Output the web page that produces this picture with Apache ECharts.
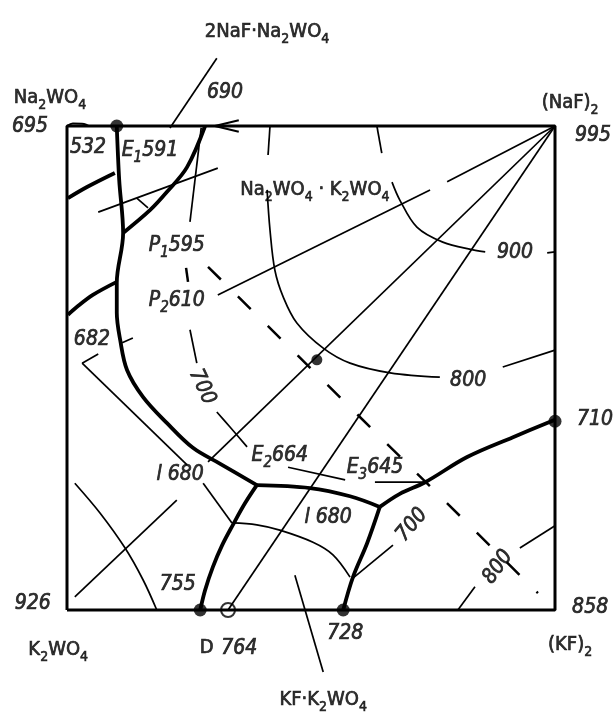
<!DOCTYPE html>
<html>
<head>
<meta charset="utf-8">
<script src="https://cdn.jsdelivr.net/npm/echarts@6/dist/echarts.min.js"></script>
<style>
html, body { margin: 0; padding: 0; background: #fff; }
#chart { width: 616px; height: 725px; }
</style>
</head>
<body>
<div id="chart"></div>
<script>
// square of the reciprocal system, x: 0..100 (K2WO4 -> (KF)2), y: 0..100 (K2WO4 -> Na2WO4)
var frame = [[0, 0], [100, 0], [100, 100], [0, 100], [0, 0]];

// monovariant curves (thick)
var curveLeft = [[10.2, 100], [10.7, 88.8], [11.5, 77.9], [10.2, 67.6], [10.2, 61.4], [10.9, 55.8], [12.3, 49.6], [15.6, 44.0], [20.5, 38.6], [25.8, 33.5], [31.4, 30.2], [38.9, 25.8]];
var curveE2E3 = [[38.9, 25.8], [49.8, 25.2], [58.0, 23.5], [64.1, 21.3]];
var curveE3Right = [[64.1, 21.3], [68.2, 24.0], [73.4, 26.4], [82.0, 31.6], [91.4, 35.7], [100, 39.3]];
var curveE2Down = [[38.9, 25.8], [36.5, 22.1], [34.0, 17.6], [31.8, 13.4], [29.9, 8.9], [28.3, 4.1], [27.3, 0]];
var curveE3Down = [[64.1, 21.3], [61.5, 13.8], [58.6, 6.8], [56.6, 0]];
var curveE1 = [[28.3, 100], [24.6, 91.5], [20.5, 86.4], [17.0, 82.6], [11.5, 77.9]];
var curveP1 = [[0.2, 85.1], [4.1, 87.4], [9.8, 90.3]];
var curveP2 = [[0.2, 61.0], [2.0, 62.6], [5.3, 65.1], [10.2, 67.8]];

// isotherms (thin), split where labels sit
var iso900 = [
  [[63.5, 100], [64.5, 94.4]],
  [[66.6, 88.4], [68.2, 84.7], [71.7, 79.1], [77.0, 76.0], [83.2, 74.4], [85.7, 74.0]],
  [[98.4, 73.8], [100, 74.0]]
];
var iso800 = [
  [[41.6, 100], [41.2, 94.0]],
  [[41.0, 86.8], [41.6, 78.5], [42.6, 70.2], [44.3, 64.7], [47.1, 59.3], [52.5, 54.1], [58.0, 51.0], [66.2, 49.0], [76.4, 48.1]],
  [[89.3, 50.2], [100, 53.7]]
];
var iso800Low = [[[100, 17.4], [92.8, 12.8]], [[83.6, 4.8], [80.1, 0]]];
var iso700 = [
  [[25.2, 57.9], [26.6, 51.0]],
  [[30.7, 40.9], [33.4, 37.8], [36.9, 33.7]],
  [[45.3, 29.5], [57.0, 26.9]],
  [[63.1, 26.4], [73.0, 26.4]],
  [[58.6, 6.6], [66.8, 13.4]]
];
var iso680 = [[[27.9, 26.2], [33.8, 18.0]], [[33.8, 18.0], [38.9, 17.6], [43.6, 16.5], [50.4, 14.0], [54.5, 11.4], [58.0, 6.8]]];
var isoLeft = [[[3.1, 51.0], [24.6, 30.0]], [[3.1, 51.0], [6.4, 52.9]], [[11.3, 55.2], [13.5, 56.2]]];
var arcK2WO4 = [[1.6, 26.2], [6.8, 20.0], [11.9, 12.8], [15.6, 6.2], [18.4, 0]];

// straight sections and leaders
var rays = [
  [[100, 100], [77.9, 88.5]], [[74.4, 86.8], [30.9, 65.1]],
  [[100, 100], [28.9, 30.6]],
  [[100, 100], [33.0, 0]],
  [[22.5, 22.7], [1.6, 2.7]]
];
var diagDashed = [[28.9, 70.9], [96.5, 3.5]];
var dashP1 = [[24.4, 70.7], [24.8, 67.8]];
var leaders = [
  [[30.7, 114.0], [21.1, 99.6]],
  [[6.4, 82.2], [30.9, 91.3]],
  [[27.5, 99.6], [25.2, 80.2]],
  [[14.3, 85.1], [16.6, 83.1]],
  [[46.7, 7.2], [52.5, -12.8]]
];
var arrowTop = [[35.2, 101.2], [30.3, 100], [35.2, 98.8]];
var cornerHook = [[0, 100], [1.2, 100.5], [3.5, 100.4], [4.5, 100]];

// invariant points
var solidPoints = [[10.2, 100], [27.3, 0], [56.6, 0], [100, 39.0]];
var innerPoints = [[51.2, 51.7]];
var openPoints = [[33.0, 0]];

// labels [x, y, text]
var formulaLabels = [
  [41.0, 119.4, '2NaF·Na{s|2}WO{s|4}'],
  [-3.5, 105.8, 'Na{s|2}WO{s|4}'],
  [50.8, 86.8, 'Na{s|2}WO{s|4} · K{s|2}WO{s|4}'],
  [103.1, 104.8, '(NaF){s|2}'],
  [-1.8, -8.3, 'K{s|2}WO{s|4}'],
  [103.1, -7.2, '(KF){s|2}'],
  [52.5, -18.6, 'KF·K{s|2}WO{s|4}'],
  [28.6, -7.9, 'D']
];
var tempLabels = [
  [-7.6, 99.8, '695'],
  [32.4, 107.0, '690'],
  [4.3, 95.5, '532'],
  [17.0, 95.0, 'E{s|1}591'],
  [107.8, 98.1, '995'],
  [22.5, 75.4, 'P{s|1}595'],
  [22.5, 64.0, 'P{s|2}610'],
  [91.8, 73.8, '900'],
  [5.1, 55.8, '682'],
  [82.2, 47.5, '800'],
  [108.2, 39.3, '710'],
  [43.6, 32.0, 'E{s|2}664'],
  [63.1, 29.5, 'E{s|3}645'],
  [23.2, 27.9, 'l 680'],
  [53.5, 19.0, 'l 680'],
  [22.7, 5.2, '755'],
  [-7.0, 1.4, '926'],
  [35.3, -7.9, '764'],
  [57.0, -4.8, '728'],
  [107.2, 0.6, '858']
];
var rotatedLabels = [
  [27.7, 46.1, '700', -65],
  [70.7, 17.6, '700', 50],
  [88.3, 8.9, '800', 55]
];

var FONT = '"Liberation Sans Narrow", "DejaVu Sans Condensed", sans-serif';

function lineSeries(segs, width, extra) {
  return segs.map(function (s) {
    return Object.assign({
      type: 'line',
      data: s,
      symbol: 'none',
      clip: false,
      silent: true,
      smooth: s.length > 2 ? 0.35 : false,
      lineStyle: { color: '#000', width: width }
    }, extra || {});
  });
}

function textSeries(items, italic, size) {
  var sub = {
    fontFamily: FONT, fontStyle: italic ? 'italic' : 'normal', fontSize: Math.round(size * 0.7),
    color: '#000', textBorderColor: '#000', textBorderWidth: 0.6,
    padding: [Math.round(size * 0.75), 0, 0, 0]
  };
  return {
    type: 'scatter',
    clip: false,
    silent: true,
    symbolSize: 0,
    data: items.map(function (d) {
      return { value: [d[0], d[1]], name: d[2], label: d[3] ? { rotate: d[3] } : undefined };
    }),
    label: {
      show: true,
      position: 'inside',
      formatter: function (p) { return p.name; },
      color: '#000',
      textBorderColor: '#000',
      textBorderWidth: 0.7,
      fontFamily: FONT,
      fontStyle: italic ? 'italic' : 'normal',
      fontSize: size,
      rich: { s: sub }
    }
  };
}

var chart = echarts.init(document.getElementById('chart'));
var series = [].concat(
  lineSeries([frame], 3, { smooth: false }),
  lineSeries([curveLeft, curveE2E3, curveE3Right, curveE2Down, curveE3Down, curveE1, curveP1, curveP2], 3.8),
  lineSeries([cornerHook], 2),
  lineSeries(iso900, 1.7),
  lineSeries(iso800, 1.7),
  lineSeries(iso800Low, 1.7),
  lineSeries(iso700, 1.7),
  lineSeries(iso680, 1.7),
  lineSeries(isoLeft, 1.7),
  lineSeries([arcK2WO4], 1.7),
  lineSeries(rays, 1.7),
  lineSeries(leaders, 1.7),
  lineSeries([arrowTop], 2, { smooth: false }),
  lineSeries([dashP1], 2.5),
  lineSeries([diagDashed], 2.5, { lineStyle: { color: '#000', width: 2.5, type: [18, 24] } }),
  [
    { type: 'scatter', clip: false, silent: true, symbolSize: 13, itemStyle: { color: '#000' }, data: solidPoints },
    { type: 'scatter', clip: false, silent: true, symbolSize: 11, itemStyle: { color: '#000' }, data: innerPoints },
    { type: 'scatter', clip: false, silent: true, symbolSize: 14, itemStyle: { color: '#fff', borderColor: '#000', borderWidth: 2 }, data: openPoints },
    textSeries(formulaLabels, false, 20),
    textSeries(tempLabels, true, 21),
    textSeries(rotatedLabels, true, 21)
  ]
);

chart.setOption({
  animation: false,
  backgroundColor: '#fff',
  grid: { left: 67, top: 126, width: 488, height: 484 },
  xAxis: { type: 'value', min: 0, max: 100, show: false },
  yAxis: { type: 'value', min: 0, max: 100, show: false },
  series: series
});
</script>
</body>
</html>
